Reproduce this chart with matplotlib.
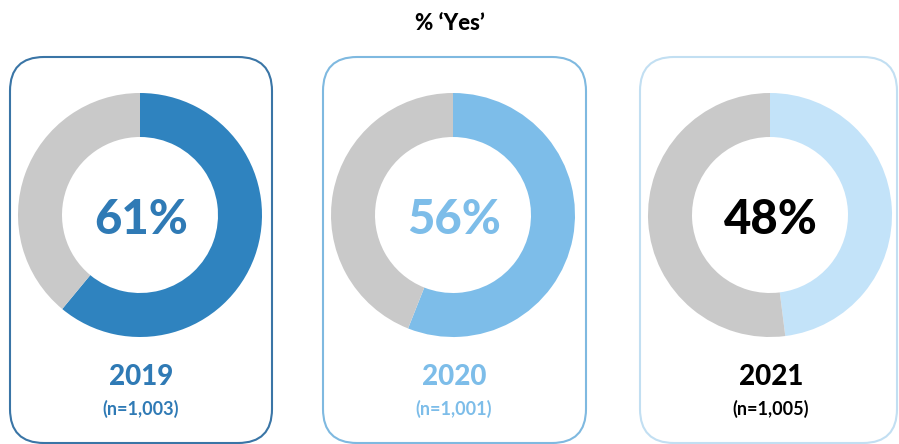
import matplotlib.pyplot as plt
from matplotlib.patches import FancyBboxPatch

# data
years = ['2019', '2020', '2021']
yes_pct = [61, 56, 48]
n_labels = ['(n=1,003)', '(n=1,001)', '(n=1,005)']
yes_colors = ['#2f83bf', '#7dbde9', '#c3e3f9']
text_colors = ['#2f7ab5', '#7dbde9', '#000000']
border_colors = ['#3a75a6', '#7fb9e0', '#c2dff2']
grey = '#c9c9c9'

plt.rcParams['font.family'] = ['Lato', 'DejaVu Sans']

fig = plt.figure(figsize=(8.99, 4.44), dpi=100)
ax = fig.add_axes([0, 0, 1, 1])
H = 444

# panel layout in pixels
box_left = [10, 323, 640]
box_width = [262, 263, 257]
centers_x = [140, 453, 770]
cy = H - 215
r_out = 122
ring = 44

for i in range(3):
    box = FancyBboxPatch((box_left[i], H - 443), box_width[i], 443 - 57,
                         boxstyle='round,pad=0,rounding_size=34',
                         fc='white', ec=border_colors[i], lw=1.5)
    ax.add_patch(box)
    ax.pie([yes_pct[i], 100 - yes_pct[i]], colors=[yes_colors[i], grey],
           startangle=90, counterclock=False, center=(centers_x[i], cy),
           radius=r_out, wedgeprops=dict(width=ring, linewidth=0))
    ax.text(centers_x[i] + 1, H - 220, f'{yes_pct[i]}%', ha='center', va='center',
            fontsize=34, fontweight='black', color=text_colors[i])
    ax.text(centers_x[i] + 1, H - 377, years[i], ha='center', va='center',
            fontsize=20, fontweight='black', color=text_colors[i])
    ax.text(centers_x[i] + 1, H - 409, n_labels[i], ha='center', va='center',
            fontsize=13, fontweight='bold', color=text_colors[i])

ax.text(450, H - 24, '% \u2018Yes\u2019', ha='center', va='center',
        fontsize=16, fontweight='black', color='#000000')

ax.set_xlim(0, 899)
ax.set_ylim(0, H)
ax.set_aspect('auto')
ax.axis('off')

fig.savefig('out.png', dpi=100)
